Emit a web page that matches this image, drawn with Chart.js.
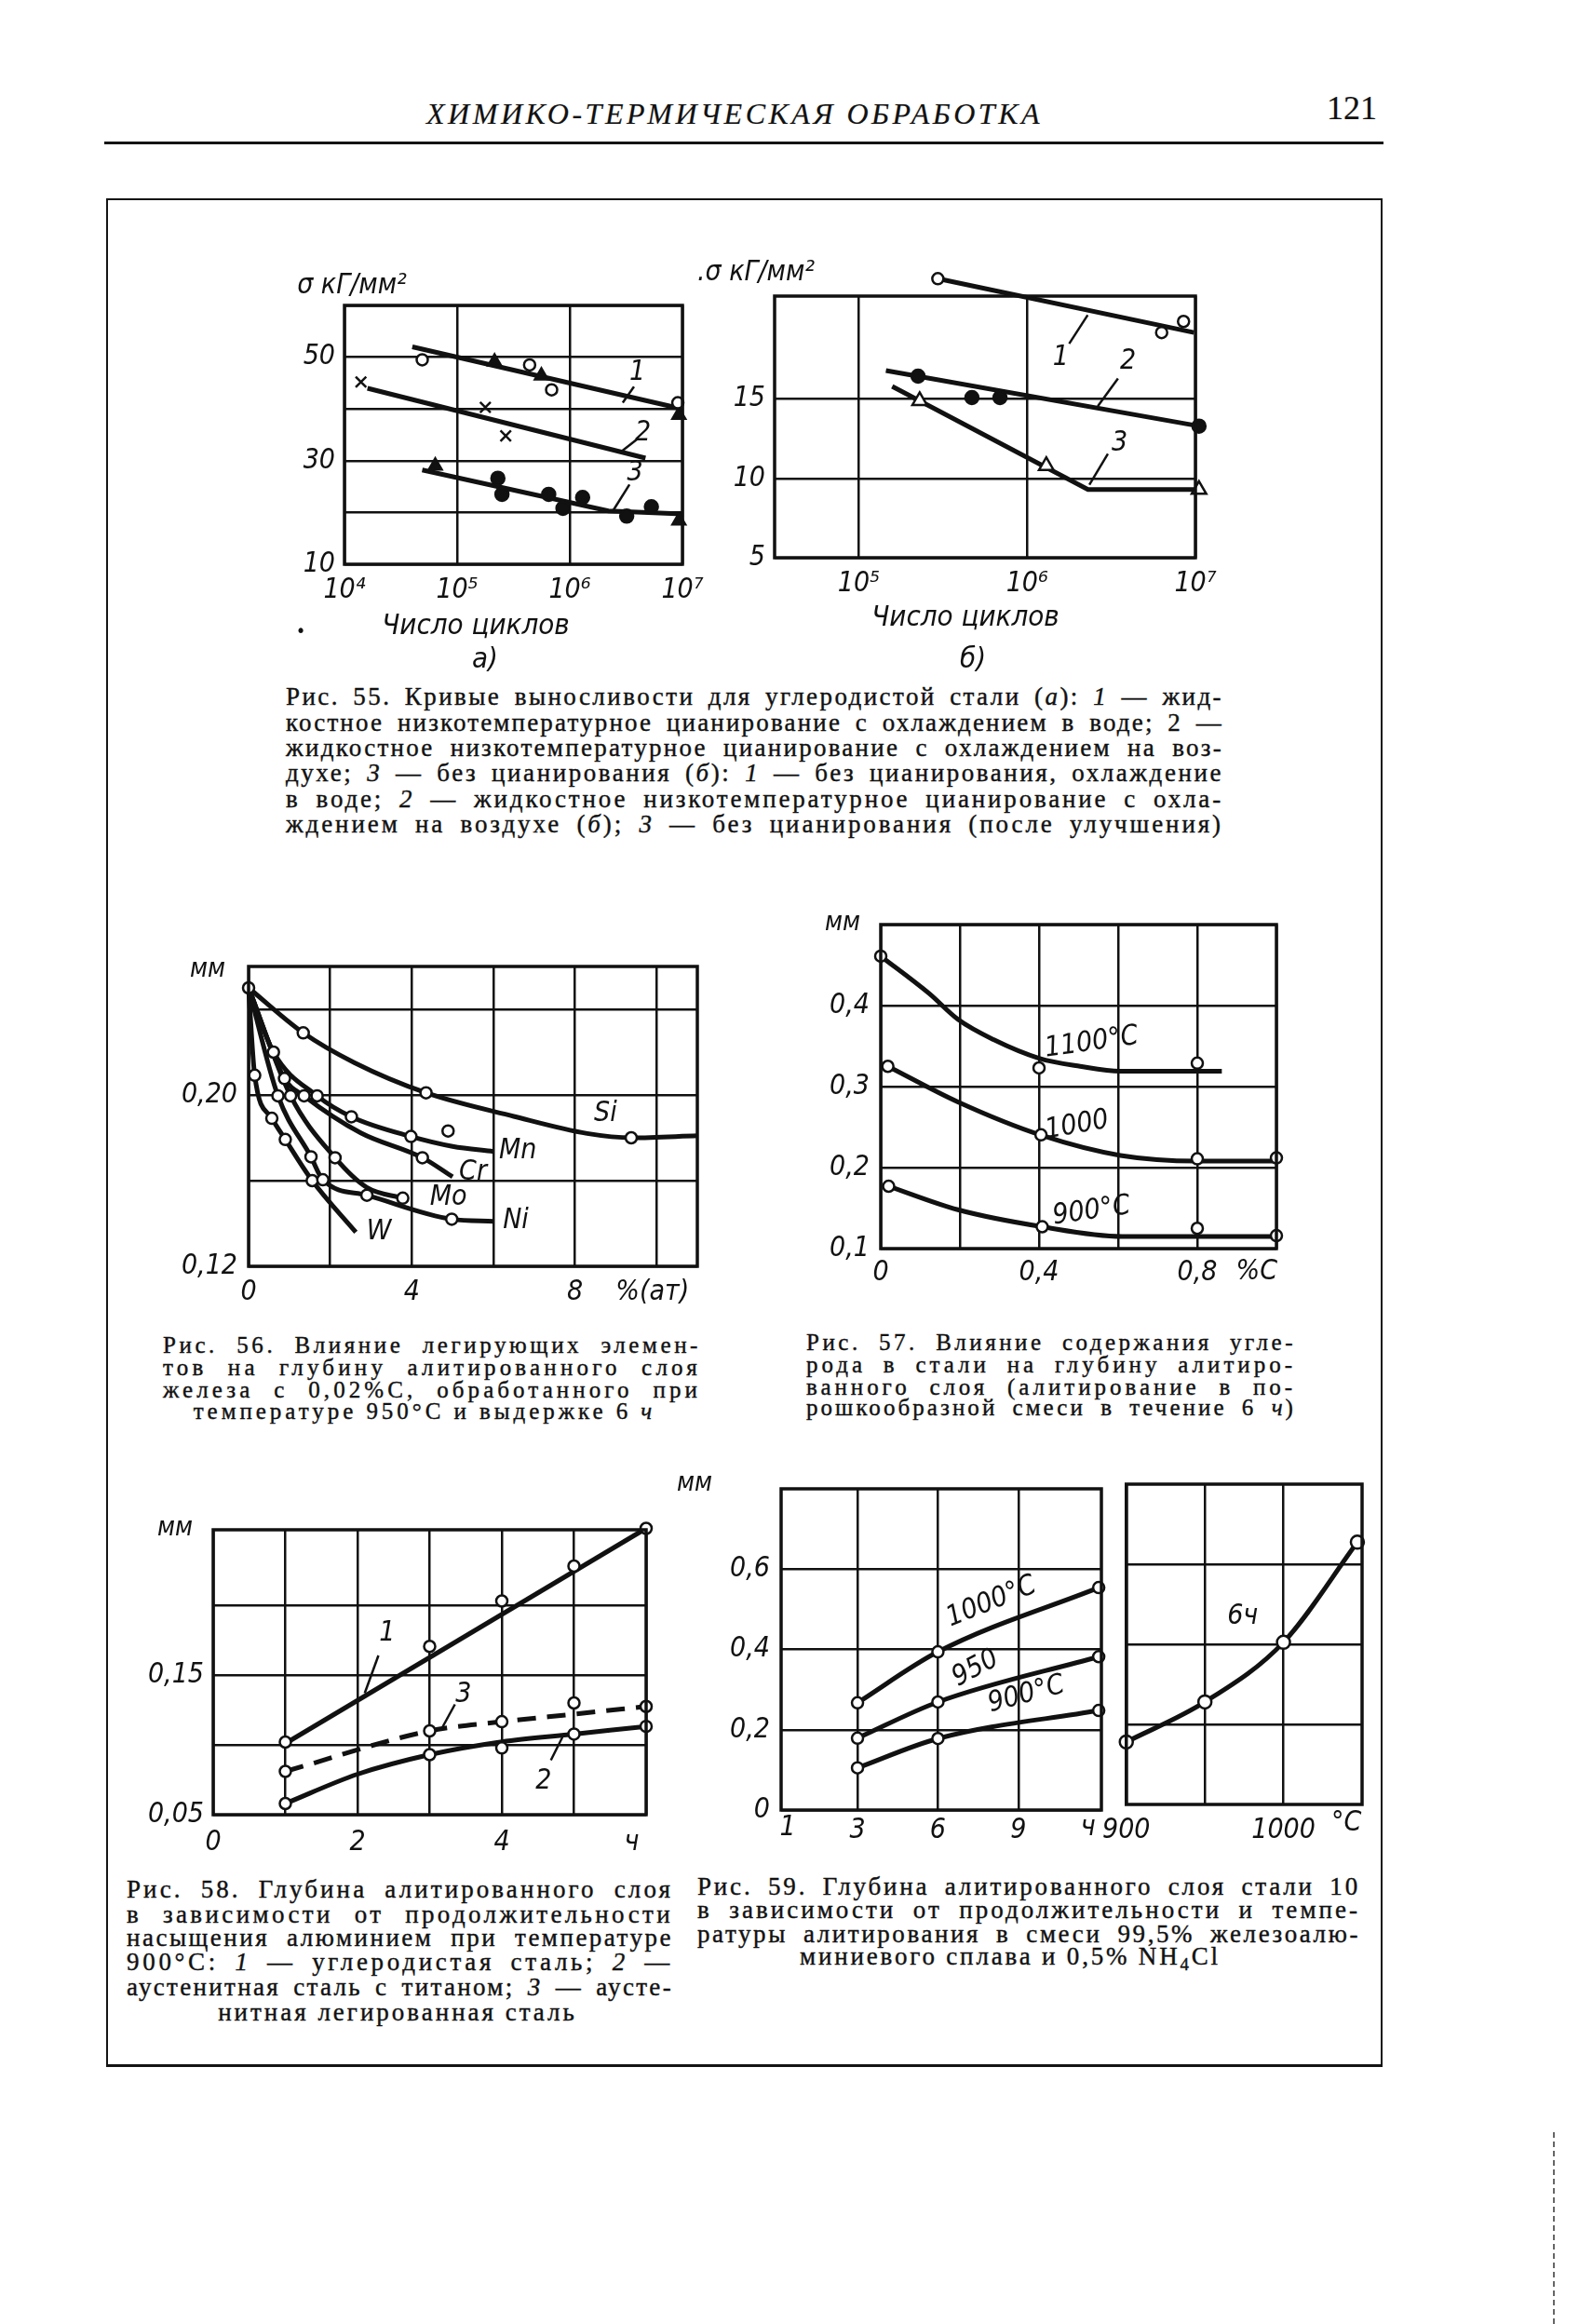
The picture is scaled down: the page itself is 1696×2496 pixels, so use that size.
<!DOCTYPE html>
<html lang="ru">
<head>
<meta charset="utf-8">
<title>Химико-термическая обработка, с. 121</title>
<script src="https://cdn.jsdelivr.net/npm/chart.js@4.4.1/dist/chart.umd.min.js"></script>
<style>
  html, body { margin: 0; background: #fff; }
  body { position: relative; width: 1696px; height: 2496px; overflow: hidden; color: #111; }
  canvas { position: absolute; }
  .t { position: absolute; white-space: nowrap; font-family: 'DejaVu Sans Condensed', 'Liberation Sans Narrow', 'DejaVu Sans', sans-serif;
       font-style: italic; line-height: 1; transform: translate(-50%, -50%); }
  .cap { position: absolute; white-space: pre; font-family: 'Liberation Serif', 'DejaVu Serif', serif; line-height: 1;
         -webkit-text-stroke: 0.4px #111; }
  .rule { position: absolute; background: #141414; }
</style>
</head>
<body>
<!-- page header and frame -->
<div class="rule" style="left:112px;top:152px;width:1374px;height:3px"></div>
<div class="rule" style="left:114px;top:213px;width:1371px;height:2px"></div>
<div class="rule" style="left:114px;top:213px;width:2px;height:2007px"></div>
<div class="rule" style="left:1483px;top:213px;width:2px;height:2007px"></div>
<div class="rule" style="left:114px;top:2217px;width:1371px;height:3px"></div>
<div style="position:absolute;left:1668px;top:2290px;height:206px;border-left:2px dashed #666"></div>

<script>
// ---------- data ----------
// Рис. 55 а) — число циклов / σ, кГ/мм²
const f55aXTicks = [1e4, 1e5, 1e6, 1e7];
const f55aXLabels = ['10⁴', '10⁵', '10⁶', '10⁷'];
const f55aYTicks = [10, 20, 30, 40, 50, 60];
const f55aYLabels = ['10', '', '30', '', '50', ''];
const f55aLine1N = [4.0e4, 1.0e7];
const f55aLine1S = [52.0, 40.0];
const f55aCircN = [4.9e4, 4.4e5, 6.9e5, 9.1e6];
const f55aCircS = [49.5, 48.5, 43.7, 41.2];
const f55aTriN = [2.15e5, 5.6e5, 9.3e6];
const f55aTriS = [49.1, 46.4, 38.8];
const f55aLine2N = [1.6e4, 4.7e6];
const f55aLine2S = [44.0, 30.5];
const f55aCrossN = [1.4e4, 1.78e5, 2.7e5];
const f55aCrossS = [45.2, 40.3, 34.8];
const f55aLine3N = [4.9e4, 2.2e6, 1.0e7];
const f55aLine3S = [28.2, 20.3, 19.7];
const f55aDotN = [2.3e5, 2.5e5, 6.5e5, 8.7e5, 1.3e6, 3.2e6, 5.3e6];
const f55aDotS = [26.6, 23.5, 23.5, 20.8, 22.9, 19.3, 21.1];
const f55aTri3N = [6.4e4, 9.3e6];
const f55aTri3S = [29.0, 18.4];

// Рис. 55 б)
const f55bXTicks = [1e5, 1e6, 1e7];
const f55bXLabels = ['10⁵', '10⁶', '10⁷'];
const f55bYTicks = [5, 10, 15];
const f55bYLabels = ['5', '10', '15'];
const f55bLine1N = [2.95e5, 9.8e6];
const f55bLine1S = [22.6, 19.2];
const f55bCircN = [2.95e5, 6.3e6, 8.5e6];
const f55bCircS = [22.6, 19.2, 19.9];
const f55bLine2N = [1.45e5, 1.05e7];
const f55bLine2S = [16.8, 13.3];
const f55bDotN = [2.25e5, 4.7e5, 6.9e5, 1.05e7];
const f55bDotS = [16.45, 15.1, 15.1, 13.3];
const f55bLine3N = [1.58e5, 2.3e6, 1.05e7];
const f55bLine3S = [15.8, 9.3, 9.3];
const f55bTriN = [2.3e5, 1.3e6, 1.05e7];
const f55bTriS = [14.9, 10.8, 9.3];

// Рис. 56 — % (ат) / мм
const f56XTicks = [0, 2, 4, 6, 8, 10];
const f56XLabels = ['0', '', '4', '', '8', ''];
const f56YTicks = [0.12, 0.16, 0.20, 0.24];
const f56YLabels = ['0,12', '', '0,20', ''];
const f56SiX = [0, 1.34, 2.6, 4.35, 6.5, 8.3, 9.4, 11.0];
const f56SiY = [0.250, 0.229, 0.215, 0.201, 0.190, 0.182, 0.180, 0.181];
const f56SiPtX = [0, 1.34, 4.35, 9.38];
const f56SiPtY = [0.250, 0.229, 0.201, 0.180];
const f56MnX = [0, 0.61, 1.68, 2.52, 3.98, 5.0, 6.0];
const f56MnY = [0.250, 0.220, 0.1996, 0.1898, 0.1806, 0.176, 0.1736];
const f56MnPtX = [0.61, 1.68, 2.52, 3.98, 4.89];
const f56MnPtY = [0.220, 0.1996, 0.1898, 0.1806, 0.1832];
const f56CrX = [0, 0.88, 1.36, 2.75, 4.26, 5.0];
const f56CrY = [0.250, 0.2077, 0.1996, 0.1823, 0.1707, 0.1618];
const f56CrPtX = [0.88, 1.36, 4.26];
const f56CrPtY = [0.2077, 0.1996, 0.1707];
const f56MoX = [0, 1.03, 2.12, 2.9, 3.78];
const f56MoY = [0.250, 0.1996, 0.1707, 0.1568, 0.1518];
const f56MoPtX = [1.03, 2.12, 3.78];
const f56MoPtY = [0.1996, 0.1707, 0.1518];
const f56NiX = [0, 0.72, 1.53, 1.82, 2.9, 4.98, 6.0];
const f56NiY = [0.250, 0.1996, 0.1711, 0.1604, 0.1532, 0.142, 0.141];
const f56NiPtX = [0.72, 1.53, 1.82, 2.9, 4.98];
const f56NiPtY = [0.1996, 0.1711, 0.1604, 0.1532, 0.142];
const f56WX = [0, 0.15, 0.57, 0.90, 1.56, 2.63];
const f56WY = [0.250, 0.2092, 0.1891, 0.1792, 0.160, 0.1359];
const f56WPtX = [0.15, 0.57, 0.90, 1.56];
const f56WPtY = [0.2092, 0.1891, 0.1792, 0.160];

// Рис. 57 — %C / мм
const f57XTicks = [0, 0.2, 0.4, 0.6, 0.8, 1.0];
const f57XLabels = ['0', '', '0,4', '', '0,8', ''];
const f57YTicks = [0.1, 0.2, 0.3, 0.4, 0.5];
const f57YLabels = ['0,1', '0,2', '0,3', '0,4', ''];
const f57T1100X = [0, 0.122, 0.195, 0.285, 0.40, 0.504, 0.606, 0.862];
const f57T1100Y = [0.461, 0.415, 0.383, 0.358, 0.335, 0.325, 0.319, 0.319];
const f57T1100PtX = [0, 0.40, 0.80];
const f57T1100PtY = [0.461, 0.323, 0.329];
const f57T1000X = [0.018, 0.195, 0.405, 0.606, 0.80, 1.0];
const f57T1000Y = [0.325, 0.281, 0.240, 0.215, 0.208, 0.208];
const f57T1000PtX = [0.018, 0.405, 0.80, 1.0];
const f57T1000PtY = [0.325, 0.2404, 0.2108, 0.212];
const f57T900X = [0.02, 0.195, 0.408, 0.61, 1.0];
const f57T900Y = [0.177, 0.148, 0.127, 0.115, 0.115];
const f57T900PtX = [0.02, 0.408, 0.80, 1.0];
const f57T900PtY = [0.177, 0.127, 0.125, 0.116];

// Рис. 58 — ч / мм
const f58XTicks = [0, 1, 2, 3, 4, 5, 6];
const f58XLabels = ['0', '', '2', '', '4', '', ''];
const f58YTicks = [0.05, 0.10, 0.15, 0.20];
const f58YLabels = ['0,05', '', '0,15', ''];
const f58Line1X = [1, 6];
const f58Line1Y = [0.101, 0.255];
const f58Pt1X = [1, 3, 4, 5, 6];
const f58Pt1Y = [0.102, 0.1705, 0.203, 0.228, 0.255];
const f58Line3X = [1, 3, 4, 5, 6];
const f58Line3Y = [0.081, 0.110, 0.1166, 0.122, 0.1275];
const f58Pt3X = [1, 3, 4, 5, 6];
const f58Pt3Y = [0.081, 0.110, 0.1166, 0.130, 0.1275];
const f58Line2X = [1, 2, 3, 4, 5, 6];
const f58Line2Y = [0.058, 0.079, 0.093, 0.1022, 0.1077, 0.1132];
const f58Pt2X = [1, 3, 4, 5, 6];
const f58Pt2Y = [0.058, 0.093, 0.0978, 0.1077, 0.1132];

// Рис. 59 — ч / мм и °C / мм
const f59XTicks = [3, 6, 9];
const f59XLabels = ['3', '6', '9'];
const f59YTicks = [0, 0.2, 0.4, 0.6];
const f59YLabels = ['0', '0,2', '0,4', '0,6'];
const f59T1000X = [3, 6, 12];
const f59T1000Y = [0.267, 0.394, 0.554];
const f59T950X = [3, 6, 12];
const f59T950Y = [0.179, 0.269, 0.382];
const f59T900X = [3, 6, 12];
const f59T900Y = [0.105, 0.178, 0.248];
const f59TempTicks = [900, 950, 1000];
const f59TempLabels = ['900', '', '1000'];
const f59YTicksR = [0.2, 0.4, 0.6];
const f59YLabelsR = ['', '', ''];
const f59SixHX = [900, 950, 1000, 1047];
const f59SixHY = [0.156, 0.256, 0.405, 0.655];

// ---------- helpers ----------
const INK = '#111';
const FAM = "'DejaVu Sans Condensed', 'Liberation Sans Narrow', 'DejaVu Sans', sans-serif";
Chart.defaults.font.family = FAM;
Chart.defaults.font.style = 'italic';
Chart.defaults.color = INK;
Chart.defaults.animation = false;
Chart.defaults.responsive = false;
Chart.defaults.plugins.legend.display = false;
Chart.defaults.plugins.tooltip.enabled = false;

const pts = (xs, ys) => xs.map((x, i) => ({x: x, y: ys[i]}));

function curve(xs, ys, extra) {
  return Object.assign({
    data: pts(xs, ys), showLine: true, borderColor: INK, borderWidth: 5,
    pointRadius: 0, tension: 0, clip: false, order: 2
  }, extra);
}
function smooth(xs, ys, extra) {
  return curve(xs, ys, Object.assign({cubicInterpolationMode: 'monotone'}, extra));
}
function marks(xs, ys, style, filled, extra) {
  return Object.assign({
    data: pts(xs, ys), showLine: false, pointStyle: style, pointRadius: 6,
    pointBorderWidth: 2.5, pointBorderColor: INK, pointBackgroundColor: filled ? INK : '#fff',
    clip: false, order: 1
  }, extra);
}

function axis(type, min, max, ticks, labels, pad) {
  return {
    type: type, min: min, max: max,
    afterBuildTicks: s => { s.ticks = ticks.map(v => ({value: v})); },
    grid: {color: INK, lineWidth: 2.5, drawTicks: false},
    border: {display: false},
    ticks: {autoSkip: false, maxRotation: 0, padding: pad, font: {size: 30},
            callback: (v, i) => labels[i]}
  };
}

// frame, curve labels and leader lines
function decor(notes) {
  return {
    id: 'decor',
    afterDatasetsDraw(chart) {
      // Chart.js skips points lying outside the plot box; the figure draws them anyway
      const {ctx, chartArea: a} = chart;
      chart.data.datasets.forEach((ds, i) => {
        if (ds.showLine) return;
        chart.getDatasetMeta(i).data.forEach(el => {
          const o = el.options, r = o.radius + 2;
          if (el.x >= a.left - r && el.x <= a.right + r && el.y >= a.top - r && el.y <= a.bottom + r) return;
          ctx.save();
          ctx.strokeStyle = o.borderColor;
          ctx.lineWidth = o.borderWidth;
          ctx.fillStyle = o.backgroundColor;
          Chart.helpers.drawPoint(ctx, o, el.x, el.y);
          ctx.restore();
        });
      });
    },
    afterDraw(chart) {
      const {ctx, chartArea: a, scales: {x, y}} = chart;
      ctx.save();
      ctx.strokeStyle = INK;
      ctx.lineWidth = 3.5;
      ctx.strokeRect(a.left, a.top, a.right - a.left, a.bottom - a.top);
      ctx.lineWidth = 2.5;
      (notes.leaders || []).forEach(l => {
        ctx.beginPath();
        ctx.moveTo(x.getPixelForValue(l[0]), y.getPixelForValue(l[1]));
        ctx.lineTo(x.getPixelForValue(l[2]), y.getPixelForValue(l[3]));
        ctx.stroke();
      });
      ctx.fillStyle = INK;
      ctx.textAlign = 'center';
      ctx.textBaseline = 'middle';
      (notes.texts || []).forEach(t => {
        const px = x.getPixelForValue(t.x);
        const py = t.y === undefined ? a.bottom + t.dy : y.getPixelForValue(t.y);
        ctx.save();
        ctx.translate(px, py);
        if (t.rot) ctx.rotate(t.rot * Math.PI / 180);
        ctx.font = 'italic ' + (t.size || 30) + 'px ' + FAM;
        ctx.fillText(t.t, 0, 0);
        ctx.restore();
      });
      ctx.restore();
    }
  };
}

// frame = [left, top, width, height] of the plot box on the page
function chartAt(frame, pad, xAxis, yAxis, datasets, notes) {
  const c = document.createElement('canvas');
  c.width = frame[2] + pad[0] + pad[1];
  c.height = frame[3] + pad[2] + pad[3];
  c.style.left = (frame[0] - pad[0]) + 'px';
  c.style.top = (frame[1] - pad[2]) + 'px';
  document.body.appendChild(c);
  xAxis.afterFit = s => { s.height = pad[3]; };
  yAxis.afterFit = s => { s.width = pad[0]; };
  return new Chart(c, {
    type: 'scatter',
    data: {datasets: datasets},
    options: {
      layout: {padding: {left: 0, right: pad[1], top: pad[2], bottom: 0}},
      scales: {x: xAxis, y: yAxis}
    },
    plugins: [decor(notes)]
  });
}

const PAD = [100, 45, 45, 60];

// ---------- Рис. 55 а ----------
chartAt([370, 328, 363, 278], PAD,
  axis('logarithmic', 1e4, 1e7, f55aXTicks, f55aXLabels, 10),
  axis('linear', 10, 60, f55aYTicks, f55aYLabels, 10),
  [
    marks(f55aCircN, f55aCircS, 'circle', false),
    marks(f55aTriN, f55aTriS, 'triangle', true, {pointRadius: 8}),
    marks(f55aCrossN, f55aCrossS, 'crossRot', false, {pointRadius: 8}),
    marks(f55aDotN, f55aDotS, 'circle', true, {pointRadius: 7}),
    marks(f55aTri3N, f55aTri3S, 'triangle', true, {pointRadius: 8}),
    curve(f55aLine1N, f55aLine1S),
    curve(f55aLine2N, f55aLine2S),
    curve(f55aLine3N, f55aLine3S)
  ],
  {
    texts: [{t: '1', x: 10 ** 6.60, y: 47.0}, {t: '2', x: 10 ** 6.65, y: 35.4}, {t: '3', x: 10 ** 6.58, y: 27.5}],
    leaders: [[10 ** 6.47, 41.2, 10 ** 6.57, 44.3], [10 ** 6.46, 31.8, 10 ** 6.60, 34.2], [10 ** 6.38, 20.2, 10 ** 6.53, 25.4]]
  });

// ---------- Рис. 55 б ----------
chartAt([832, 318, 452, 281], PAD,
  axis('logarithmic', 10 ** 4.5, 1e7, f55bXTicks, f55bXLabels, 10),
  axis('linear', 5, 21.5, f55bYTicks, f55bYLabels, 10),
  [
    marks(f55bCircN, f55bCircS, 'circle', false),
    marks(f55bDotN, f55bDotS, 'circle', true, {pointRadius: 7}),
    marks(f55bTriN, f55bTriS, 'triangle', false, {pointRadius: 9}),
    curve(f55bLine1N, f55bLine1S),
    curve(f55bLine2N, f55bLine2S),
    curve(f55bLine3N, f55bLine3S)
  ],
  {
    texts: [{t: '1', x: 10 ** 6.20, y: 17.6}, {t: '2', x: 10 ** 6.60, y: 17.4}, {t: '3', x: 10 ** 6.55, y: 12.2}],
    leaders: [[10 ** 6.25, 18.5, 10 ** 6.36, 20.3], [10 ** 6.42, 14.55, 10 ** 6.54, 16.3], [10 ** 6.37, 9.6, 10 ** 6.48, 11.55]]
  });

// ---------- Рис. 56 ----------
chartAt([267, 1038, 482, 322], PAD,
  axis('linear', 0, 11, f56XTicks, f56XLabels, 10),
  axis('linear', 0.12, 0.26, f56YTicks, f56YLabels, 12),
  [
    marks(f56SiPtX, f56SiPtY, 'circle', false),
    marks(f56MnPtX, f56MnPtY, 'circle', false),
    marks(f56CrPtX, f56CrPtY, 'circle', false),
    marks(f56MoPtX, f56MoPtY, 'circle', false),
    marks(f56NiPtX, f56NiPtY, 'circle', false),
    marks(f56WPtX, f56WPtY, 'circle', false),
    smooth(f56SiX, f56SiY), smooth(f56MnX, f56MnY), smooth(f56CrX, f56CrY),
    smooth(f56MoX, f56MoY), smooth(f56NiX, f56NiY), smooth(f56WX, f56WY)
  ],
  {
    texts: [
      {t: 'Si', x: 8.75, y: 0.191}, {t: 'Mn', x: 6.6, y: 0.174}, {t: 'Cr', x: 5.5, y: 0.164},
      {t: 'Mo', x: 4.9, y: 0.152}, {t: 'Ni', x: 6.55, y: 0.141}, {t: 'W', x: 3.2, y: 0.136},
      {t: '%(ат)', x: 9.9, dy: 28}
    ]
  });

// ---------- Рис. 57 ----------
chartAt([946, 993, 425, 348], PAD,
  axis('linear', 0, 1.0, f57XTicks, f57XLabels, 8),
  axis('linear', 0.1, 0.5, f57YTicks, f57YLabels, 12),
  [
    marks(f57T1100PtX, f57T1100PtY, 'circle', false),
    marks(f57T1000PtX, f57T1000PtY, 'circle', false),
    marks(f57T900PtX, f57T900PtY, 'circle', false),
    smooth(f57T1100X, f57T1100Y), smooth(f57T1000X, f57T1000Y), smooth(f57T900X, f57T900Y)
  ],
  {
    texts: [
      {t: '1100°C', x: 0.533, y: 0.354, rot: -8}, {t: '1000', x: 0.496, y: 0.252, rot: -10},
      {t: '900°C', x: 0.533, y: 0.146, rot: -8}, {t: '%C', x: 0.95, dy: 25}
    ]
  });

// ---------- Рис. 58 ----------
chartAt([229, 1643, 465, 306], PAD,
  axis('linear', 0, 6, f58XTicks, f58XLabels, 12),
  axis('linear', 0.05, 0.254, f58YTicks, f58YLabels, 10),
  [
    marks(f58Pt1X, f58Pt1Y, 'circle', false),
    marks(f58Pt3X, f58Pt3Y, 'circle', false),
    marks(f58Pt2X, f58Pt2Y, 'circle', false),
    curve(f58Line1X, f58Line1Y),
    smooth(f58Line3X, f58Line3Y, {borderDash: [20, 12]}),
    smooth(f58Line2X, f58Line2Y)
  ],
  {
    texts: [{t: '1', x: 2.41, y: 0.18}, {t: '3', x: 3.47, y: 0.136}, {t: '2', x: 4.58, y: 0.074},
            {t: 'ч', x: 5.8, dy: 30}],
    leaders: [[2.1, 0.137, 2.29, 0.164], [3.16, 0.111, 3.35, 0.129], [4.68, 0.089, 4.84, 0.1055]]
  });

// ---------- Рис. 59, слева ----------
chartAt([839, 1599, 344, 345], PAD,
  axis('linear', 0.15, 12.1, f59XTicks, f59XLabels, 4),
  axis('linear', 0, 0.8, f59YTicks, f59YLabels, 12),
  [
    marks(f59T1000X, f59T1000Y, 'circle', false),
    marks(f59T950X, f59T950Y, 'circle', false),
    marks(f59T900X, f59T900Y, 'circle', false),
    smooth(f59T1000X, f59T1000Y), smooth(f59T950X, f59T950Y), smooth(f59T900X, f59T900Y)
  ],
  {
    texts: [
      {t: '1000°C', x: 8.0, y: 0.518, rot: -22}, {t: '950', x: 7.4, y: 0.352, rot: -28},
      {t: '900°C', x: 9.3, y: 0.287, rot: -15}, {t: '1', x: 0.4, dy: 19}, {t: 'ч', x: 11.6, dy: 19}
    ]
  });

// ---------- Рис. 59, справа ----------
chartAt([1204, 1594, 259, 344], [30, 45, 45, 66],
  axis('linear', 900, 1050, f59TempTicks, f59TempLabels, 10),
  axis('linear', 0, 0.8, f59YTicksR, f59YLabelsR, 4),
  [
    marks(f59SixHX, f59SixHY, 'circle', false, {pointRadius: 7}),
    smooth(f59SixHX, f59SixHY)
  ],
  {
    texts: [{t: '6ч', x: 974, y: 0.47}, {t: '°C', x: 1040, dy: 20}]
  });

// ---------- page text ----------
const labels = [
  ['σ кГ/мм²', 378, 305, 30], ['.σ кГ/мм²', 812, 291, 30],
  ['Число циклов', 511, 670, 31], ['а)', 521, 706, 31], ['•', 323, 677, 20],
  ['Число циклов', 1037, 661, 31], ['б)', 1045, 706, 31],
  ['мм', 223, 1040, 28], ['мм', 905, 990, 28], ['мм', 188, 1640, 28], ['мм', 746, 1592, 28]
];
labels.forEach(([s, x, y, size]) => {
  const d = document.createElement('div');
  d.className = 't';
  d.textContent = s;
  d.style.left = x + 'px';
  d.style.top = y + 'px';
  d.style.fontSize = size + 'px';
  document.body.appendChild(d);
});

// caption lines: [html, left (or centre when width is null), centre y, width]
// the spare width goes mostly into letter spacing, the rest (wordShare) into the word gaps
function caption(lines, size, extra, wordShare) {
  const ws = wordShare === undefined ? 0.25 : wordShare;
  let lsSum = 0, lsCnt = 0;
  const centred = [];
  lines.forEach(([html, x, cy, w]) => {
    const d = document.createElement('div');
    d.className = 'cap';
    d.innerHTML = html;
    d.style.fontSize = size + 'px';
    if (extra) d.style.cssText += extra;
    d.style.top = (cy - size / 2) + 'px';
    document.body.appendChild(d);
    const nat = d.getBoundingClientRect().width;
    const n = d.textContent.length;
    if (!w) { centred.push([d, x, n, nat]); return; }
    d.style.left = x + 'px';
    const spare = w - nat;
    const spaces = (d.textContent.match(/ /g) || []).length;
    if (spare > 0) {
      const ls = (1 - ws) * spare / n;
      d.style.letterSpacing = ls + 'px';
      if (spaces && ws) d.style.wordSpacing = (ws * spare / spaces) + 'px';
      lsSum += ls; lsCnt++;
    } else {
      d.style.transformOrigin = '0 50%';
      d.style.transform = 'scaleX(' + (w / nat) + ')';
    }
  });
  centred.forEach(([d, cx, n, nat]) => {
    const ls = lsCnt ? lsSum / lsCnt : 0;
    d.style.letterSpacing = ls + 'px';
    d.style.left = (cx - (nat + ls * n) / 2) + 'px';
  });
}

caption([['ХИМИКО-ТЕРМИЧЕСКАЯ ОБРАБОТКА', 458, 122, 662]], 32, 'font-style:italic;-webkit-text-stroke:0.2px #111;', 0);
caption([['121', 1425, 116, 54]], 36, '-webkit-text-stroke:0.2px #111;');

caption([
  ['Рис. 55. Кривые выносливости для углеродистой стали (<i>а</i>): <i>1</i> — жид-', 307, 748, 1007],
  ['костное низкотемпературное цианирование с охлаждением в воде; 2 —', 307, 776, 1007],
  ['жидкостное низкотемпературное цианирование с охлаждением на воз-', 307, 803, 1007],
  ['духе; <i>3</i> — без цианирования (<i>б</i>): <i>1</i> — без цианирования, охлаждение', 307, 830, 1007],
  ['в воде; <i>2</i> — жидкостное низкотемпературное цианирование с охла-', 307, 858, 1007],
  ['ждением на воздухе (<i>б</i>); <i>3</i> — без цианирования (после улучшения)', 307, 885, 1007]
], 27);

caption([
  ['Рис. 56. Влияние легирующих элемен-', 175, 1444, 578],
  ['тов на глубину алитированного слоя', 175, 1468, 578],
  ['железа с 0,02%С, обработанного при', 175, 1492, 578],
  ['температуре 950°С и выдержке 6 <i>ч</i>', 456, 1515, null]
], 25);

caption([
  ['Рис. 57. Влияние содержания угле-', 866, 1441, 526],
  ['рода в стали на глубину алитиро-', 866, 1465, 526],
  ['ванного слоя (алитирование в по-', 866, 1489, 526],
  ['рошкообразной смеси в течение 6 <i>ч</i>)', 866, 1511, 526]
], 25);

caption([
  ['Рис. 58. Глубина алитированного слоя', 136, 2029, 587],
  ['в зависимости от продолжительности', 136, 2056, 587],
  ['насыщения алюминием при температуре', 136, 2081, 587],
  ['900°С: <i>1</i> — углеродистая сталь; <i>2</i> —', 136, 2107, 587],
  ['аустенитная сталь с титаном; <i>3</i> — аусте-', 136, 2134, 587],
  ['нитная легированная сталь', 427, 2161, null]
], 27);

caption([
  ['Рис. 59. Глубина алитированного слоя стали 10', 749, 2026, 712],
  ['в зависимости от продолжительности и темпе-', 749, 2051, 712],
  ['ратуры алитирования в смеси 99,5% железоалю-', 749, 2077, 712],
  ['миниевого сплава и 0,5% NH<sub style="font-size:70%;line-height:0">4</sub>Cl', 1085, 2101, null]
], 27);
</script>
</body>
</html>
